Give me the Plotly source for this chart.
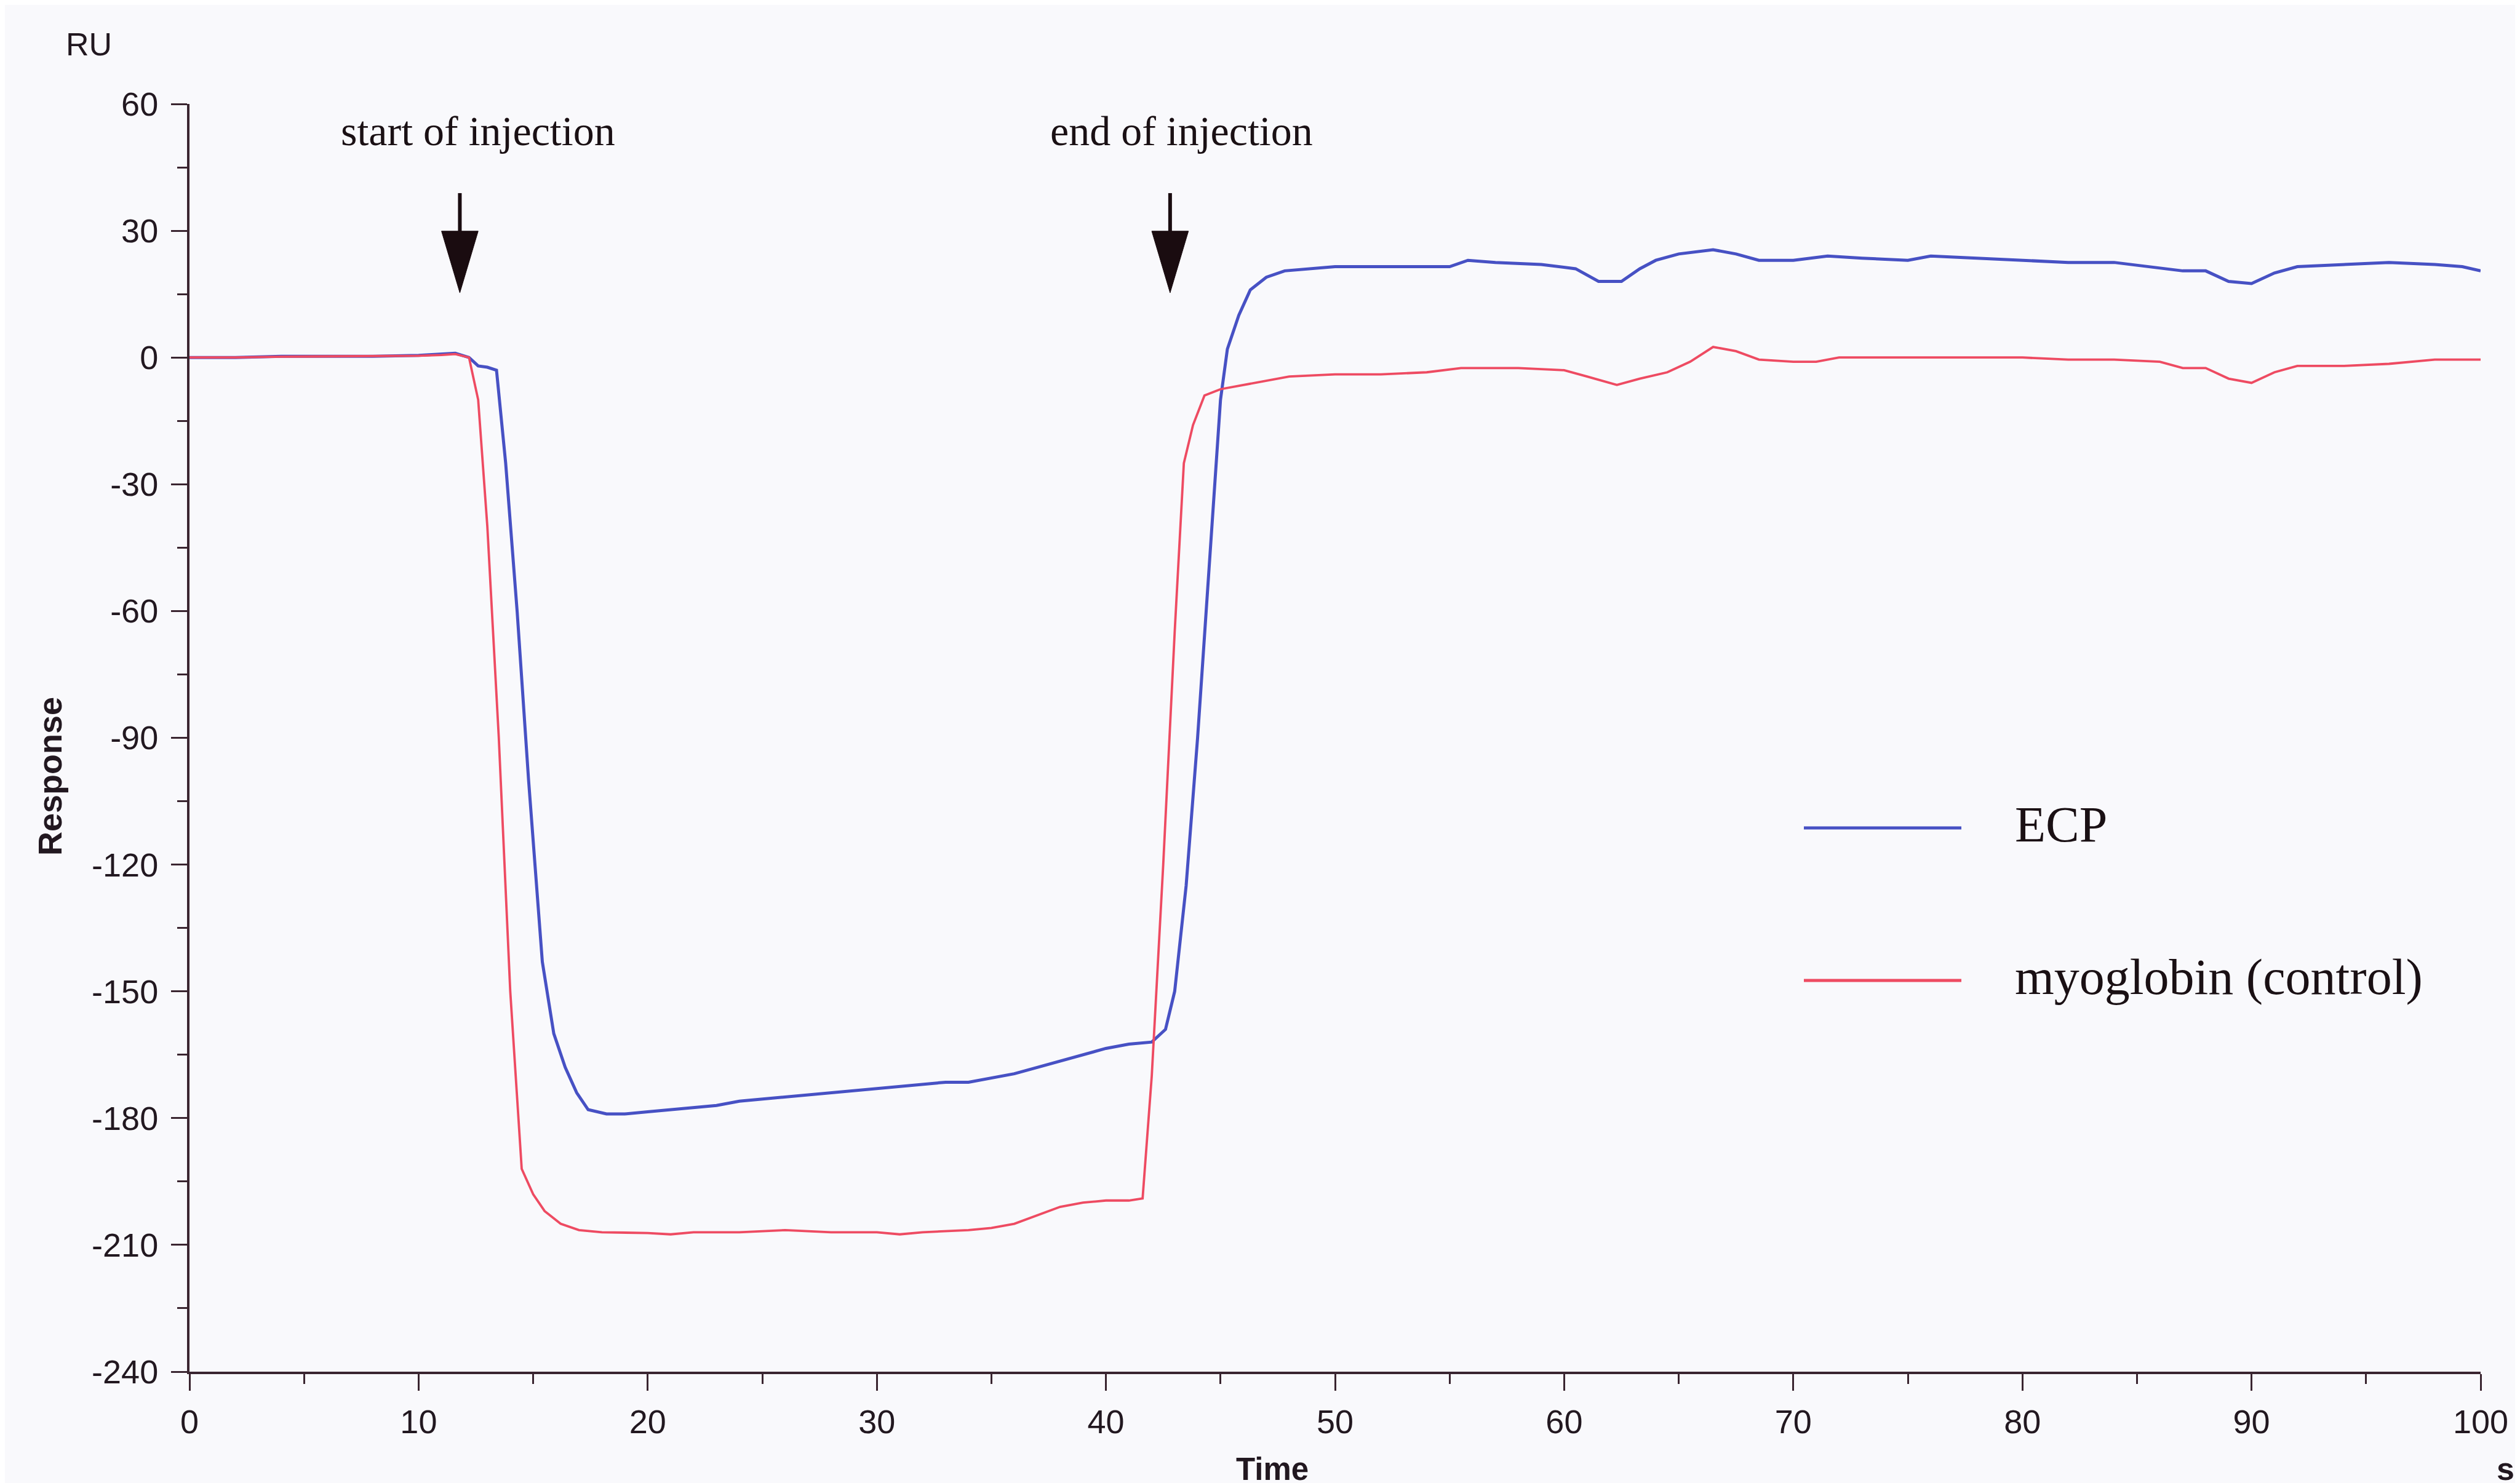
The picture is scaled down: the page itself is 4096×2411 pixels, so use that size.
import plotly.graph_objects as go

# ---------------- data ----------------
ecp_t = [0, 2, 4, 6, 8, 10, 11, 11.6, 12.2, 12.6, 13.0, 13.4, 13.8, 14.3, 14.8, 15.4, 15.9, 16.4,
         16.9, 17.4, 18.2, 19, 20, 21, 22, 23, 24, 25, 26, 27, 28, 29, 30, 31, 32, 33, 34, 35, 36,
         37, 38, 39, 40, 41, 42, 42.6, 43.0, 43.5, 44.0, 44.5, 45.0, 45.3, 45.8, 46.3, 47, 47.8,
         49, 50, 52, 54, 55, 55.8, 57, 59, 60.5, 61.5, 62.5, 63.3, 64, 65, 66.5, 67.5, 68.5, 70,
         71.5, 73, 75, 76, 78, 80, 82, 84, 85.5, 87, 88, 89, 90, 91, 92, 94, 96, 98, 99.2, 100]
ecp_ru = [0, 0, 0.3, 0.3, 0.3, 0.5, 0.8, 1.0, 0, -2, -2.3, -3, -25, -60, -100, -143, -160, -168,
          -174, -178, -179, -179, -178.5, -178, -177.5, -177, -176, -175.5, -175, -174.5, -174,
          -173.5, -173, -172.5, -172, -171.5, -171.5, -170.5, -169.5, -168, -166.5, -165, -163.5,
          -162.5, -162, -159, -150, -125, -90, -50, -10, 2, 10, 16, 19, 20.5, 21, 21.5, 21.5, 21.5,
          21.5, 23, 22.5, 22, 21, 18, 18, 21, 23, 24.5, 25.5, 24.5, 23, 23, 24, 23.5, 23, 24, 23.5,
          23, 22.5, 22.5, 21.5, 20.5, 20.5, 18, 17.5, 20, 21.5, 22, 22.5, 22, 21.5, 20.5]

myo_t = [0, 2, 4, 6, 8, 10, 11, 11.6, 12.2, 12.6, 13.0, 13.5, 14.0, 14.5, 15.0, 15.5, 16.2, 17,
         18, 20, 21, 22, 24, 26, 28, 30, 31, 32, 34, 35, 36, 37, 38, 39, 40, 41, 41.6, 42.0, 42.5,
         43.0, 43.4, 43.8, 44.3, 45, 46, 47, 48, 50, 52, 54, 55.5, 58, 60, 61, 62.3, 63.3, 64.5,
         65.5, 66.5, 67.5, 68.5, 70, 71, 72, 74, 76, 78, 80, 82, 84, 86, 87, 88, 89, 90, 91, 92,
         94, 96, 98, 100]
myo_ru = [0, 0, 0.2, 0.3, 0.3, 0.4, 0.6, 0.8, 0, -10, -40, -90, -150, -192, -198, -202, -205,
          -206.5, -207, -207.2, -207.5, -207, -207, -206.5, -207, -207, -207.5, -207, -206.5, -206,
          -205, -203, -201, -200, -199.5, -199.5, -199, -170, -120, -65, -25, -16, -9, -7.5, -6.5,
          -5.5, -4.5, -4, -4, -3.5, -2.5, -2.5, -3, -4.5, -6.5, -5, -3.5, -1, 2.5, 1.5, -0.5, -1, -1,
          0, 0, 0, 0, 0, -0.5, -0.5, -1, -2.5, -2.5, -5, -6, -3.5, -2, -2, -1.5, -0.5, -0.5]

series_names = ["ECP", "myoglobin (control)"]
series_colors = ["#4751c4", "#ee4b62"]

x_ticks = [0, 10, 20, 30, 40, 50, 60, 70, 80, 90, 100]
x_tick_labels = ["0", "10", "20", "30", "40", "50", "60", "70", "80", "90", "100"]
y_ticks = [60, 30, 0, -30, -60, -90, -120, -150, -180, -210, -240]
y_tick_labels = ["60", "30", "0", "-30", "-60", "-90", "-120", "-150", "-180", "-210", "-240"]

arrow_x = [11.8, 42.8]                      # time of injection markers (s)
arrow_labels = ["start of injection", "end of injection"]

# ---------------- layout geometry (pixels) ----------------
W, H = 4096, 2411
L, R, T, B = 300, 4024, 161, 2222
PW, PH = R - L, B - T


def px(xp):
    return (xp - L) / PW


def py(yp):
    return (B - yp) / PH


AX = "#3a2530"
TXT = "#221820"
SANS = "Liberation Sans, Arial, sans-serif"
SERIF = "Liberation Serif, Times New Roman, serif"

fig = go.Figure()
fig.add_trace(go.Scatter(x=ecp_t, y=ecp_ru, mode="lines", name=series_names[0],
                         line=dict(color=series_colors[0], width=5), showlegend=False))
fig.add_trace(go.Scatter(x=myo_t, y=myo_ru, mode="lines", name=series_names[1],
                         line=dict(color=series_colors[1], width=3.8), showlegend=False))

fig.update_layout(
    width=W, height=H,
    margin=dict(l=L, r=W - R, t=T, b=H - B, pad=0, autoexpand=False),
    paper_bgcolor="#f9f9fc", plot_bgcolor="#f9f9fc",
    font=dict(family=SANS, size=54, color=TXT),
    showlegend=False,
)
common = dict(showgrid=False, zeroline=False, automargin=False)
fig.update_layout(
    xaxis=dict(
        range=[0, 100], **common,
        showline=True, linecolor=AX, linewidth=4,
        tickmode="array", tickvals=x_ticks, ticktext=x_tick_labels,
        ticks="outside", ticklen=27, tickwidth=3, tickcolor=AX,
        minor=dict(tickmode="linear", tick0=5, dtick=10, ticks="outside", ticklen=16,
                   tickwidth=3, tickcolor=AX, showgrid=False),
        tickfont=dict(family=SANS, size=54, color=TXT),
        ticklabelstandoff=4,
    ),
    yaxis=dict(
        range=[-240, 60], **common,
        showline=True, linecolor=AX, linewidth=4,
        tickmode="array", tickvals=y_ticks, ticktext=y_tick_labels,
        ticks="outside", ticklen=26, tickwidth=3, tickcolor=AX,
        minor=dict(tickmode="linear", tick0=-225, dtick=30, ticks="outside", ticklen=16,
                   tickwidth=3, tickcolor=AX, showgrid=False),
        tickfont=dict(family=SANS, size=54, color=TXT),
        ticklabelstandoff=10,
    ),
    # overlay axes: the short part of each tick that crosses into the plot
    xaxis2=dict(
        range=[0, 100], overlaying="x", anchor="y", side="bottom", **common,
        showline=False, showticklabels=False,
        tickmode="array", tickvals=x_ticks,
        ticks="inside", ticklen=9, tickwidth=3, tickcolor=AX,
        minor=dict(tickmode="linear", tick0=5, dtick=10, ticks="inside", ticklen=4,
                   tickwidth=3, tickcolor=AX, showgrid=False),
    ),
    yaxis2=dict(
        range=[-240, 60], overlaying="y", anchor="x", side="left", **common,
        showline=False, showticklabels=False,
        tickmode="array", tickvals=y_ticks,
        ticks="inside", ticklen=9, tickwidth=3, tickcolor=AX,
        minor=dict(tickmode="linear", tick0=-225, dtick=30, ticks="inside", ticklen=4,
                   tickwidth=3, tickcolor=AX, showgrid=False),
    ),
)

ann = []
# axis titles / units
ann.append(dict(text="RU", x=px(136), y=py(64), xref="paper", yref="paper", showarrow=False,
                xanchor="center", yanchor="middle", font=dict(family=SANS, size=52, color=TXT)))
ann.append(dict(text="<b>Time</b>", x=px(2060), y=0, yshift=-(H - B) + 1, xref="paper",
                yref="paper", showarrow=False, xanchor="center", yanchor="bottom", borderpad=0,
                font=dict(family=SANS, size=51, color=TXT)))
ann.append(dict(text="<b>s</b>", x=px(4064), y=0, yshift=-(H - B) + 1, xref="paper",
                yref="paper", showarrow=False, xanchor="center", yanchor="bottom", borderpad=0,
                font=dict(family=SANS, size=52, color=TXT)))
ann.append(dict(text="<b>Response</b>", x=px(73), y=py(1254), xref="paper", yref="paper",
                showarrow=False, xanchor="center", yanchor="middle", textangle=-90,
                font=dict(family=SANS, size=54, color=TXT)))

# injection labels and arrows
label_cx = [769, 1912]
shapes = []
for xa, lab, cx in zip(arrow_x, arrow_labels, label_cx):
    ann.append(dict(text=lab, x=px(cx), y=py(205), xref="paper", yref="paper", showarrow=False,
                    xanchor="center", yanchor="middle",
                    font=dict(family=SERIF, size=68, color="#1a1014")))
    shapes.append(dict(type="line", xref="x", yref="y", x0=xa, x1=xa, y0=38.9, y1=29,
                       line=dict(color="#1a0c10", width=6)))
    shapes.append(dict(type="path", xref="x", yref="y",
                       path=f"M {xa - 0.8},{29.9} L {xa + 0.8},{29.9} L {xa},{15.3} Z",
                       fillcolor="#1a0c10", line=dict(color="#1a0c10", width=1)))

# manual legend
leg_y = [1338, 1586]
for name, col, ly in zip(series_names, series_colors, leg_y):
    shapes.append(dict(type="line", xref="paper", yref="paper", x0=px(2924), x1=px(3180),
                       y0=py(ly), y1=py(ly), line=dict(color=col, width=5)))
    ann.append(dict(text=name, x=px(3265), y=py(ly - 6), xref="paper", yref="paper",
                    showarrow=False, xanchor="left", yanchor="middle",
                    font=dict(family=SERIF, size=82, color="#1a1014")))

fig.update_layout(annotations=ann, shapes=shapes)
fig.write_html("out.html")
